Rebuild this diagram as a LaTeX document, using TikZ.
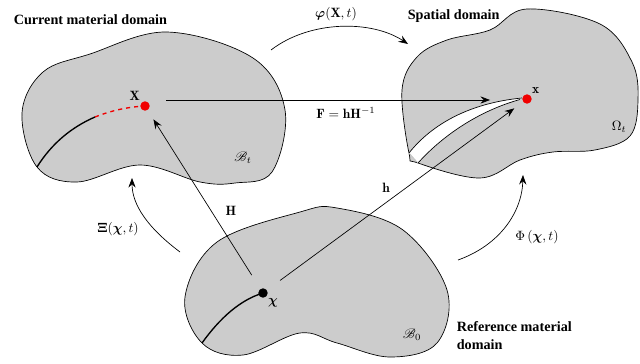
\documentclass[tikz,border=0pt]{standalone}
\usepackage{amsmath,amssymb,bm,mathrsfs}
\usepackage{fontspec}
\newfontfamily\labelfont{Liberation Serif}
\usetikzlibrary{arrows.meta,positioning,calc}
\definecolor{domaingray}{RGB}{204,204,204}
\definecolor{pointred}{RGB}{240,0,0}

\begin{document}
\begin{tikzpicture}[x=0.740625pt,y=-0.740625pt,>={Stealth[length=2.5mm,width=1.9mm,inset=0.9mm]},
  every node/.style={font=\normalsize},
  bodyblob/.style={draw=black,line width=0.5pt,fill=domaingray},
  maparrow/.style={->,line width=0.5pt},
  domaintitle/.style={font=\labelfont\bfseries\fontsize{10.5}{13.5}\selectfont,align=left},
  spot/.style={circle,inner sep=0pt,minimum size=7pt}]
\useasboundingbox (0,0) rectangle (640,364);
% domains
\draw[bodyblob] plot[smooth cycle,tension=0.6] coordinates {(37,167) (22,113) (43,72) (90,54) (167,32) (253,58) (285,110) (272,172) (235,183) (200,182) (140,165) (77,182)};
\draw[bodyblob] plot[smooth cycle,tension=0.6] coordinates {(409,153) (402,90) (417,57) (447,40) (490,30) (527,9) (600,24) (632,62) (638,100) (630,136) (595,150) (553,152) (520,160) (480,178) (418,163)};
\draw[bodyblob] plot[smooth cycle,tension=0.6] coordinates {(202,343) (185,297) (217,242) (300,212) (337,208) (403,230) (447,290) (437,343) (390,357) (337,343) (300,333) (243,355)};
% slit in the spatial domain
\fill[white] (409,153) .. controls (432,124) and (470,103) .. (522,98) -- (520,99.5) .. controls (482,110) and (445,133) .. (418,163) -- cycle;
\draw[black!25,line width=0.5pt] (409,153) -- (418,163);
\draw[line width=0.5pt] (409,153) .. controls (432,124) and (470,103) .. (522,98);
\draw[line width=0.5pt] (418,163) .. controls (445,133) and (482,110) .. (520,99.5);
% points
\node[spot,fill=pointred] (X) at (145,106) {};
\node[spot,fill=pointred] (x) at (527,99) {};
\node[spot,fill=black] (chi) at (263,293) {};
\node[anchor=south east,inner sep=1pt] at (X.north west) {$\mathbf{X}$};
\node[anchor=south west,inner sep=1pt] at (x.north east) {$\mathbf{x}$};
\node[anchor=north west,inner sep=1pt] at (chi.south east) {$\bm{\chi}$};
% material lines
\draw[line width=1pt] (37,167) .. controls (52,143) and (72,127) .. (95,117);
\draw[pointred,line width=1pt,dashed] (95,117) .. controls (113,110) and (128,107) .. (X.center);
\draw[line width=1pt] (202,343) .. controls (220,318) and (240,300) .. (chi.center);
% domain symbols
\node at (243,158) {$\mathscr{B}_t$};
\node at (619,127) {$\Omega_t$};
\node at (412,335) {$\mathscr{B}_0$};
% titles
\node[domaintitle,anchor=west] (curtitle) at (9,20) {Current material domain};
\node[domaintitle,anchor=west] (spatitle) at (403,16) {Spatial domain};
\node[domaintitle,anchor=north west] (reftitle) at (452,317) {Reference material\\domain};
% deformation gradients
\coordinate (Fstart) at (166,100);
\coordinate (Fend) at (490,100);
\draw[maparrow] (Fstart) -- (Fend);
\node at (346,113) {$\mathbf{F}=\mathbf{h}\mathbf{H}^{-1}$};
\draw[maparrow,shorten <=12pt,shorten >=8pt] (chi) -- (X);
\draw[maparrow,shorten <=12pt,shorten >=8pt] (chi) -- (x);
\node at (231,211) {$\mathbf{H}$};
\node at (386,188) {$\mathbf{h}$};
% motions
\coordinate (phistart) at (271,50);
\coordinate (phiend) at (408,44);
\draw[maparrow] (phistart) .. controls (310,20) and (372,20) .. (phiend);
\node at (336,14) {$\bm{\varphi}(\mathbf{X},t)$};
\coordinate (xistart) at (180,252);
\coordinate (xiend) at (132,178);
\draw[maparrow] (xistart) .. controls (148,228) and (132,205) .. (xiend);
\node at (118,229) {$\bm{\Xi}(\bm{\chi},t)$};
\coordinate (Phistart) at (458,260);
\coordinate (Phiend) at (523,175);
\draw[maparrow] (Phistart) .. controls (500,245) and (522,212) .. (Phiend);
\node at (537,237) {$\Phi\left(\bm{\chi},t\right)$};
\end{tikzpicture}
\end{document}
